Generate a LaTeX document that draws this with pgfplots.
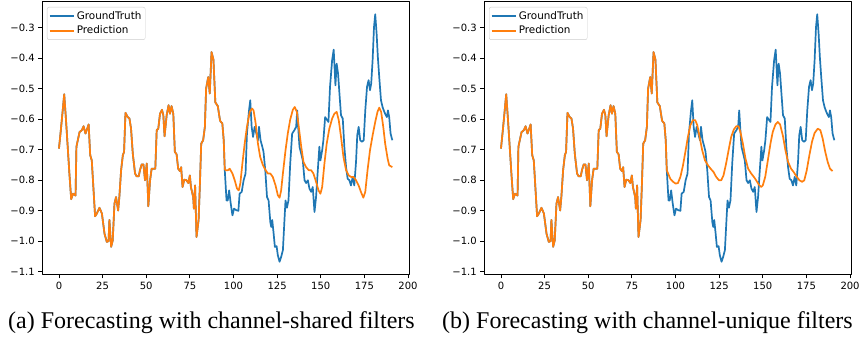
\documentclass[border=0pt]{standalone}
\usepackage{pgfplots}
\usepackage{pgfplotstable}
\pgfplotsset{compat=1.18}
\usepackage{fontspec}
\setmainfont{Liberation Serif}
\newfontfamily\dejavu{DejaVu Sans}
\definecolor{mplblue}{HTML}{1F77B4}
\definecolor{mplorange}{HTML}{FF7F0E}

\pgfplotstableread{
x y
0 -0.696
1 -0.64
2 -0.58
3 -0.518
4 -0.60
5 -0.69
6 -0.78
7 -0.862
8 -0.844
9.5 -0.85
10 -0.69
11.8 -0.642
13.1 -0.636
14.1 -0.623
15.2 -0.647
17 -0.617
17.9 -0.718
18.8 -0.735
20.7 -0.918
21.7 -0.909
23.2 -0.89
24.6 -0.909
26.1 -0.975
27.4 -1.002
28.4 -0.999
28.9 -0.93
29.9 -1.018
30.8 -0.997
31.8 -0.876
32.7 -0.855
33.9 -0.899
34.6 -0.855
35.6 -0.767
36.6 -0.718
37.3 -0.707
38.1 -0.579
39.4 -0.593
40.4 -0.598
41.3 -0.631
42.3 -0.713
43.6 -0.778
44.5 -0.787
45.7 -0.787
46.4 -0.767
47.4 -0.748
48.4 -0.748
49.3 -0.80
50.3 -0.745
51.2 -0.885
52.2 -0.80
53.1 -0.762
55.2 -0.762
56 -0.636
56.9 -0.631
57.9 -0.582
59 -0.569
59.8 -0.587
60.5 -0.656
61.7 -0.587
62.8 -0.554
63.6 -0.582
64.5 -0.557
65.5 -0.582
66.4 -0.707
67.4 -0.715
68.3 -0.762
69.3 -0.77
70 -0.757
70.8 -0.822
71.8 -0.798
73.1 -0.80
74.1 -0.809
75 -0.784
75.6 -0.822
76.9 -0.855
77.3 -0.893
78 -0.817
78.8 -0.986
80 -0.93
80.7 -0.822
81.5 -0.68
82.6 -0.669
83.6 -0.625
84.3 -0.50
85.5 -0.462
86.4 -0.516
87.4 -0.38
88.5 -0.405
89.6 -0.545
91 -0.557
92.3 -0.605
93.6 -0.614
94.4 -0.669
95 -0.767
}\commontab

\pgfplotstableread{
x y
95 -0.767
96 -0.866
96.7 -0.866
97.5 -0.833
98.4 -0.876
99.4 -0.915
100.3 -0.893
101.6 -0.898
102.8 -0.90
103.5 -0.844
104.7 -0.838
105.8 -0.80
106.9 -0.778
107.7 -0.647
108.9 -0.571
109.6 -0.538
110.4 -0.625
111.2 -0.658
112.1 -0.625
113.1 -0.647
114 -0.669
114.6 -0.625
115.5 -0.669
116.5 -0.69
117.2 -0.707
118.2 -0.767
119.2 -0.855
120.1 -0.866
121.1 -0.937
121.6 -0.953
122.2 -0.93
123 -0.975
123.7 -1.018
124.7 -1.016
125.4 -1.046
126.4 -1.067
127.3 -1.051
128.3 -1.029
129.2 -0.93
129.8 -0.866
130.6 -0.89
131.5 -0.866
132.5 -0.745
133.6 -0.647
134.9 -0.636
135.9 -0.625
136.5 -0.571
137 -0.62
137.8 -0.69
138.8 -0.713
139.7 -0.735
140.7 -0.80
141.6 -0.809
142.6 -0.80
143.5 -0.827
144.5 -0.838
145.4 -0.822
146.4 -0.904
147.3 -0.855
148.3 -0.767
149.2 -0.69
149.8 -0.735
150.8 -0.702
151.5 -0.669
152.5 -0.593
153.4 -0.601
154.4 -0.609
155.3 -0.494
156.5 -0.407
157.4 -0.372
158.4 -0.489
159.1 -0.418
159.9 -0.45
160.7 -0.516
161.6 -0.587
162.6 -0.598
163.5 -0.69
164.5 -0.757
165.4 -0.795
166.4 -0.80
167.3 -0.817
168.3 -0.789
169.2 -0.817
170.2 -0.74
170.9 -0.653
171.7 -0.625
172.6 -0.669
173.6 -0.674
174.6 -0.669
175.5 -0.571
176.5 -0.494
177.4 -0.472
178.2 -0.505
178.9 -0.483
179.7 -0.407
180.5 -0.298
181.2 -0.256
182 -0.32
182.7 -0.396
183.5 -0.462
184.5 -0.538
185.4 -0.56
186.4 -0.576
187.3 -0.587
187.9 -0.593
188.5 -0.571
189.2 -0.593
190 -0.647
191 -0.669
}\gtrest

\pgfplotstableread{
x y
95 -0.767
96.9 -0.767
97.8 -0.762
99.4 -0.778
100.7 -0.80
102 -0.827
103 -0.833
103.9 -0.811
105.1 -0.745
106.4 -0.68
107.7 -0.625
109.3 -0.576
110.6 -0.565
111.5 -0.571
112.7 -0.614
114 -0.68
115.3 -0.724
116.9 -0.751
118.4 -0.767
119.7 -0.778
121.1 -0.778
122.5 -0.789
124.1 -0.817
125.4 -0.849
126.4 -0.857
127.3 -0.833
128.3 -0.778
129.8 -0.702
131.1 -0.647
132.5 -0.601
134 -0.569
135.1 -0.56
136.3 -0.576
137.4 -0.625
138.8 -0.69
140.1 -0.74
141.6 -0.757
143.1 -0.767
144.5 -0.767
145.8 -0.778
147.3 -0.805
148.7 -0.833
149.8 -0.844
150.8 -0.822
152.1 -0.745
153.4 -0.68
154.9 -0.631
156.5 -0.598
157.8 -0.582
159.1 -0.576
160.3 -0.603
161.6 -0.658
163 -0.724
164.5 -0.767
166 -0.784
167.3 -0.789
168.7 -0.789
170.2 -0.80
171.7 -0.817
173 -0.838
174.4 -0.857
175.5 -0.838
176.8 -0.767
178.2 -0.702
179.7 -0.653
181.2 -0.609
182.5 -0.576
183.5 -0.562
184.6 -0.576
185.8 -0.625
186.9 -0.68
188.3 -0.729
189.2 -0.751
191 -0.757
}\parest

\pgfplotstableread{
x y
95 -0.767
97 -0.795
98.6 -0.805
100.1 -0.811
101.4 -0.809
102.8 -0.789
104.3 -0.751
105.8 -0.702
107.1 -0.658
108.5 -0.62
110 -0.603
111.3 -0.603
112.5 -0.62
113.8 -0.658
115.3 -0.702
116.9 -0.735
118.6 -0.751
120.1 -0.762
121.8 -0.773
123.3 -0.789
124.9 -0.80
126.2 -0.80
127.5 -0.784
129 -0.745
130.6 -0.696
131.9 -0.658
133.4 -0.634
134.8 -0.623
136.1 -0.623
137.2 -0.642
138.6 -0.68
140.1 -0.729
141.6 -0.762
143.4 -0.778
144.9 -0.789
146.2 -0.80
147.7 -0.814
149.1 -0.822
150 -0.817
151.4 -0.789
152.9 -0.735
154.4 -0.68
155.7 -0.642
157.3 -0.617
158.6 -0.609
159.9 -0.617
161.5 -0.653
163 -0.702
164.5 -0.74
166.2 -0.762
167.7 -0.773
169.5 -0.789
171 -0.80
172.5 -0.805
173.8 -0.80
175.2 -0.767
176.7 -0.718
178.2 -0.674
179.7 -0.645
181.5 -0.631
183 -0.636
184.3 -0.663
185.8 -0.707
187.2 -0.74
188.5 -0.762
190 -0.77
}\pbrest

\pgfplotsset{
  panel/.style={
    scale only axis,
    width=366.7pt, height=272.6pt,
    xmin=-9.55, xmax=200.55, ymin=-1.108, ymax=-0.215,
    xtick={0,25,50,75,100,125,150,175,200},
    ytick={-1.1,-1.0,-0.9,-0.8,-0.7,-0.6,-0.5,-0.4,-0.3},
    yticklabels={−1.1,−1.0,−0.9,−0.8,−0.7,−0.6,−0.5,−0.4,−0.3},
    /pgf/number format/assume math mode=true,
    tick align=outside, tick pos=left,
    major tick length=4pt,
    axis line style={line width=0.8pt, black},
    every tick/.style={line width=0.8pt, black},
    tick label style={font=\dejavu\fontsize{10}{12}\selectfont, text=black},
    legend style={at={(0,1)}, anchor=north west, xshift=4.7pt, yshift=-5.3pt,
      draw=black!20, rounded corners=2pt, fill=white, fill opacity=0.8, text opacity=1,
      font=\dejavu\fontsize{10.4}{12}\selectfont, inner xsep=1.5pt, inner ysep=2pt, row sep=0.5pt,
      nodes={inner sep=2.3pt}},
    legend cell align=left,
    line join=round,
  },
  gtline/.style={mplblue, line width=1.7pt,
    legend image code/.code={\draw[##1, line width=1.8pt] (0pt,0pt) -- (24pt,0pt);}},
  prline/.style={mplorange, line width=1.7pt,
    legend image code/.code={\draw[##1, line width=1.8pt] (0pt,0pt) -- (24pt,0pt);}},
}

\begin{document}
\begin{tikzpicture}
\path[use as bounding box] (0pt,0pt) rectangle (860pt,339pt);
\begin{axis}[panel, at={(42.3pt,64.7pt)}, anchor=south west]
\addplot[gtline, forget plot] table[x=x,y=y] {\commontab};
\addplot[gtline] table[x=x,y=y] {\gtrest};
\addlegendentry{GroundTruth}
\addplot[prline, forget plot] table[x=x,y=y] {\commontab};
\addplot[prline] table[x=x,y=y] {\parest};
\addlegendentry{Prediction}
\end{axis}
\begin{axis}[panel, at={(484.3pt,64.7pt)}, anchor=south west]
\addplot[gtline, forget plot] table[x=x,y=y] {\commontab};
\addplot[gtline] table[x=x,y=y] {\gtrest};
\addlegendentry{GroundTruth}
\addplot[prline, forget plot] table[x=x,y=y] {\commontab};
\addplot[prline] table[x=x,y=y] {\pbrest};
\addlegendentry{Prediction}
\end{axis}
\node[anchor=base, font=\fontsize{24}{28}\selectfont, inner sep=0pt] at (211.5pt,10pt) {(a) Forecasting with channel-shared filters};
\node[anchor=base, font=\fontsize{24}{28}\selectfont, inner sep=0pt] at (647.5pt,10pt) {(b) Forecasting with channel-unique filters};
\end{tikzpicture}
\end{document}
